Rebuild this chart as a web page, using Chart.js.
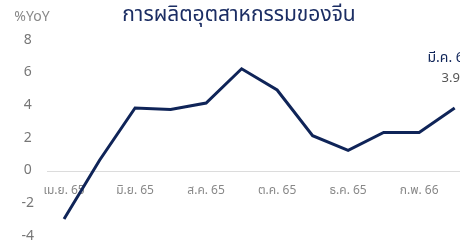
<!DOCTYPE html>
<html><head><meta charset="utf-8">
<script src="https://cdn.jsdelivr.net/npm/chart.js@4/dist/chart.umd.min.js"></script>
<style>html,body{margin:0;padding:0;background:#fff}#wrap{width:460px;height:248px}</style>
</head><body><div id="wrap"><canvas id="c" width="460" height="248"></canvas></div>
<script>
const months = ['เม.ย. 65','พ.ค. 65','มิ.ย. 65','ก.ค. 65','ส.ค. 65','ก.ย. 65','ต.ค. 65','พ.ย. 65','ธ.ค. 65','ม.ค. 66','ก.พ. 66','มี.ค. 66'];
const ipYoY = [-2.9, 0.7, 3.9, 3.8, 4.2, 6.3, 5.0, 2.2, 1.3, 2.4, 2.4, 3.9];
const xTickIdx = [0, 2, 4, 6, 8, 10];
const yTicks = [-4, -2, 0, 2, 4, 6, 8];
const titleText = 'การผลิตอุตสาหกรรมของจีน';
const unitText = '%YoY';
const lastLabel = 'มี.ค. 66';

const FONT = "'Noto Sans Thai','Noto Sans','DejaVu Sans',sans-serif";
const NAVY = '#0f2458';

const extras = {
  id: 'extras',
  afterDraw(chart) {
    const ctx = chart.ctx;
    ctx.save();
    ctx.textBaseline = 'middle';
    ctx.textAlign = 'center';
    ctx.fillStyle = '#1b2d63';
    ctx.font = "21px " + FONT;
    ctx.fillText(titleText, 239, 17);
    ctx.fillStyle = '#888';
    ctx.font = "14px " + FONT;
    ctx.fillText(unitText, 32, 18);
    const meta = chart.getDatasetMeta(0);
    const p = meta.data[meta.data.length - 1];
    ctx.fillStyle = NAVY;
    ctx.font = "14px " + FONT;
    ctx.fillText(lastLabel, p.x - 5, 59);
    ctx.fillStyle = '#555';
    ctx.font = "13px " + FONT;
    ctx.fillText(ipYoY[ipYoY.length - 1].toFixed(1), p.x - 4, 79);
    ctx.restore();
  }
};

new Chart(document.getElementById('c'), {
  type: 'line',
  data: {
    datasets: [{
      data: ipYoY.map((v, i) => ({x: i, y: v})),
      borderColor: NAVY,
      borderWidth: 3,
      pointRadius: 0,
      tension: 0,
      fill: false
    }]
  },
  options: {
    responsive: false,
    animation: false,
    layout: {padding: {top: 41, bottom: 11, left: 0, right: 0}},
    plugins: {legend: {display: false}, tooltip: {enabled: false}, title: {display: false}},
    scales: {
      x: {
        type: 'linear',
        position: {y: 0},
        min: -0.48,
        max: 11.15,
        afterBuildTicks: (s) => { s.ticks = xTickIdx.map(v => ({value: v})); },
        afterFit: (s) => { s.height = 0; },
        grid: {display: false, drawTicks: false},
        border: {display: false},
        ticks: {
          autoSkip: false,
          maxRotation: 0,
          padding: 13,
          color: '#888',
          font: {family: FONT, size: 12},
          callback: (v) => months[v] || ''
        }
      },
      y: {
        min: -4,
        max: 8,
        afterBuildTicks: (s) => { s.ticks = yTicks.map(v => ({value: v})); },
        afterFit: (s) => { s.width = 47; s.paddingTop = 0; s.paddingBottom = 0; },
        grid: {
          drawTicks: false,
          color: (c) => c.tick && c.tick.value === 0 ? '#dcdcdc' : 'rgba(0,0,0,0)',
          lineWidth: 1
        },
        border: {display: false},
        ticks: {
          padding: 13,
          crossAlign: 'center',
          color: '#777',
          font: {family: FONT, size: 14}
        }
      }
    }
  },
  plugins: [extras]
});
</script>
</body></html>
